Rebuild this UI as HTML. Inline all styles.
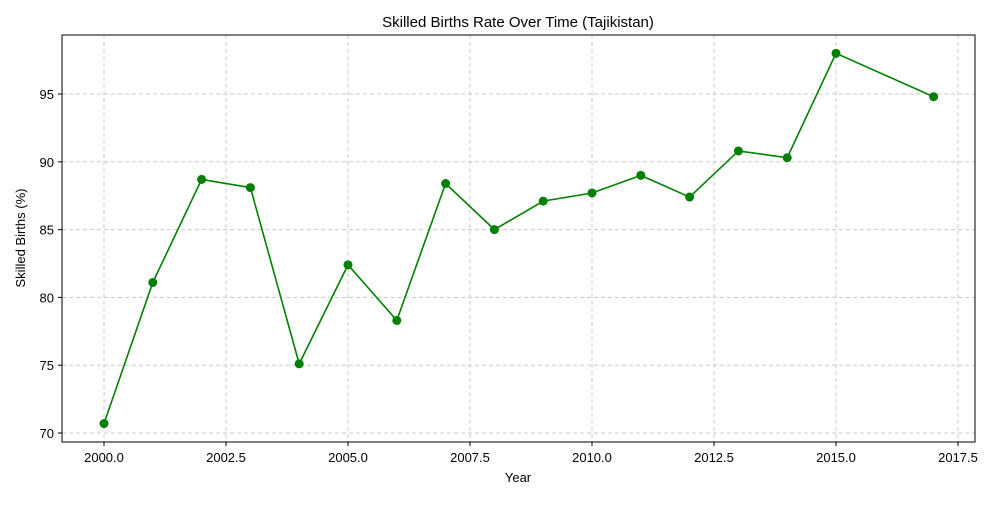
<!DOCTYPE html>
<html><head><meta charset="utf-8"><style>
body{margin:0;background:#fff;}
svg text{font-family:"Liberation Sans","DejaVu Sans",sans-serif;fill:#000;}
</style></head><body>
<svg id="chart" width="1000" height="500">
<rect width="1000" height="500" fill="#fff"/>
<text x="518" y="27" font-size="15" text-anchor="middle">Skilled Births Rate Over Time (Tajikistan)</text>
<g id="grid"></g><g id="ticks"></g><g id="series"></g>
<rect x="62" y="35" width="913" height="407" fill="none" stroke="#000" stroke-width="1"/>
<text x="518" y="482" font-size="13" text-anchor="middle">Year</text>
<text x="25" y="238" font-size="13" text-anchor="middle" transform="rotate(-90 25 238)">Skilled Births (%)</text>
</svg>
<script>
const years=[2000,2001,2002,2003,2004,2005,2006,2007,2008,2009,2010,2011,2012,2013,2014,2015,2017];
const values=[70.7,81.1,88.7,88.1,75.1,82.4,78.3,88.4,85.0,87.1,87.7,89.0,87.4,90.8,90.3,98.0,94.8];
const xTicks=[2000,2002.5,2005,2007.5,2010,2012.5,2015,2017.5];
const yTicks=[70,75,80,85,90,95];
const NS="http://www.w3.org/2000/svg";
function xs(v){return 104+(v-2000)*(854/17.5);}
function ys(v){return 433-(v-70)*(339/25);}
function mk(tag,attrs,parent){const e=document.createElementNS(NS,tag);for(const k in attrs)e.setAttribute(k,attrs[k]);document.getElementById(parent).appendChild(e);return e;}
xTicks.forEach(t=>{
  const g=mk('line',{x1:xs(t),x2:xs(t),y1:35,y2:442,stroke:'#c8c8c8','stroke-dasharray':'4,3'},'grid');
  
  
  const tk=mk('line',{x1:xs(t),x2:xs(t),y1:442,y2:446,stroke:'#000'},'ticks');
  
  
  const l=mk('text',{x:xs(t),y:462,'font-size':13,'text-anchor':'middle'},'ticks');
  l.textContent=t.toFixed(1);
  
  
});
yTicks.forEach(t=>{
  const g=mk('line',{x1:62,x2:975,y1:ys(t),y2:ys(t),stroke:'#c8c8c8','stroke-dasharray':'4,3'},'grid');
  
  
  const tk=mk('line',{x1:58,x2:62,y1:ys(t),y2:ys(t),stroke:'#000'},'ticks');
  
  
  const l=mk('text',{x:54,y:ys(t)+5,'font-size':13,'text-anchor':'end'},'ticks');
  l.textContent=t;
  
  
});
const line=mk('polyline',{points:years.map((y,i)=>xs(y)+','+ys(values[i])).join(' '),fill:'none',stroke:'#008000','stroke-width':1.6},'series');


years.forEach((y,i)=>{
  const c=mk('circle',{cx:xs(y),cy:ys(values[i]),r:4.5,fill:'#008000'},'series');
  
  
});
</script>
</body></html>
